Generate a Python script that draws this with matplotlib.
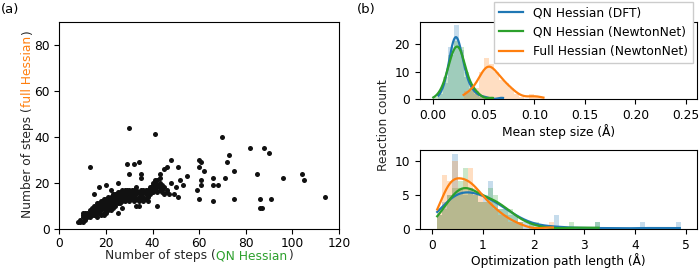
import numpy as np
import matplotlib
matplotlib.use("Agg")
import matplotlib.pyplot as plt

plt.rcParams['font.family'] = ['DejaVu Sans']
FS = 8.8
plt.rcParams['font.size'] = FS

# ---------------- data ----------------
# (a) number of optimisation steps, QN Hessian vs full Hessian
qn_steps = [
    8,
    9, 9,
    10, 10, 10, 10,
    11, 11, 11,
    12, 12, 12,
    13, 13, 13, 13, 13,
    14, 14, 14, 14,
    15, 15, 15, 15, 15, 15,
    16, 16, 16, 16, 16, 16,
    17, 17, 17, 17, 17, 17,
    18, 18, 18, 18, 18, 18,
    19, 19, 19, 19, 19, 19, 19,
    20, 20, 20, 20, 20, 20, 20, 20,
    21, 21, 21, 21, 21, 21, 21,
    22, 22, 22, 22, 22, 22, 22,
    23, 23, 23, 23, 23, 23,
    24, 24, 24, 24, 24, 24,
    25, 25, 25, 25, 25, 25, 25, 25,
    26, 26, 26, 26, 26,
    27, 27, 27, 27, 27, 27,
    28, 28, 28, 28, 28, 28,
    29, 29, 29, 29, 29,
    30, 30, 30, 30, 30, 30, 30,
    31, 31, 31, 31,
    32, 32, 32, 32, 32,
    33, 33, 33, 33, 33, 33,
    34, 34, 34, 34, 34,
    35, 35, 35, 35, 35, 35,
    36, 36, 36, 36,
    37, 37, 37,
    38, 38, 38, 38,
    39, 39, 39,
    40, 40, 40, 40, 40,
    41, 41, 41, 41, 41, 41,
    42, 42, 42, 42, 42,
    43, 43, 43, 43, 43, 43,
    44, 44, 44,
    45, 45, 45,
    46, 46, 46,
    47,
    48, 48,
    49, 50,
    51, 51,
    52, 53, 55, 59,
    60, 60, 60,
    61, 61, 61,
    62,
    66, 66, 66,
    68, 70, 71, 72, 73,
    75, 75,
    82, 85, 86, 86, 87, 88, 90, 91, 96, 104, 105, 114,
]
full_steps = [
    3,
    3, 4,
    3, 5, 6, 7,
    4, 6, 7,
    5, 6, 7,
    5, 6, 7, 8, 27,
    6, 7, 8, 9,
    6, 7, 8, 9, 10, 15,
    5, 7, 8, 9, 10, 11,
    7, 8, 9, 10, 11, 18,
    6, 8, 9, 10, 11, 12,
    6, 7, 9, 10, 11, 12, 13,
    7, 8, 9, 10, 11, 12, 13, 19,
    8, 9, 10, 11, 12, 13, 14,
    8, 10, 11, 12, 13, 14, 17,
    9, 10, 11, 12, 13, 15,
    10, 11, 12, 13, 14, 15,
    7, 11, 12, 13, 14, 15, 16, 20,
    11, 12, 13, 14, 16,
    9, 12, 13, 14, 15, 17,
    12, 13, 14, 15, 16, 17,
    13, 14, 15, 17, 28,
    12, 14, 15, 16, 17, 24, 44,
    13, 14, 15, 17,
    12, 14, 16, 17, 28,
    10, 13, 15, 16, 17, 18,
    10, 12, 14, 16, 29,
    13, 15, 16, 17, 22, 24,
    12, 14, 16, 17,
    13, 15, 17,
    12, 14, 16, 17,
    15, 17, 18,
    16, 17, 18, 19, 20,
    17, 18, 19, 20, 21, 41,
    10, 16, 18, 19, 21,
    17, 18, 19, 20, 22, 24,
    16, 17, 19,
    15, 18, 26,
    16, 17, 27,
    15,
    20, 30,
    15, 18,
    14, 27,
    21, 19, 23, 17,
    13, 27, 30,
    19, 21, 29,
    25,
    12, 19, 22,
    19, 40, 22, 29, 32,
    13, 25,
    35, 24, 9, 13, 9, 35, 33, 13, 22, 24, 21, 14,
]
assert len(qn_steps) == len(full_steps)

series_labels = ["QN Hessian (DFT)", "QN Hessian (NewtonNet)", "Full Hessian (NewtonNet)"]
series_colors = ["#1f77b4", "#2ca02c", "#ff7f0e"]

# (b, top) mean step size histograms: bins of 0.005 A starting at 0.0
step_bin_start = 0.0
step_bin_width = 0.005
step_counts_dft = [0, 2, 6, 19, 27, 18, 8, 4, 2, 1, 1, 0, 0, 1]
step_counts_nn = [1, 3, 8, 16, 21, 19, 10, 5, 3, 1, 0, 1]
step_counts_full = [0, 0, 0, 0, 0, 0, 3, 3, 4, 10, 15, 13, 10, 7, 6, 4, 2, 1, 0, 2, 1, 1]

# (b, bottom) optimisation path length histograms: bins of 0.1 A starting at 0.1
path_bin_start = 0.1
path_bin_width = 0.1
path_counts_dft = [2, 4, 5, 11, 6, 5, 6, 5, 4, 5, 7, 4, 3, 3, 2, 2, 1, 1, 1, 0,
                   0, 0, 0, 2, 0, 0, 0, 0, 0, 0, 0, 1, 0, 0, 0, 0, 0, 0, 0, 0,
                   1, 0, 0, 0, 0, 0, 0, 1]
path_counts_nn = [2, 3, 5, 6, 7, 9, 6, 5, 4, 4, 6, 5, 3, 3, 3, 2, 1, 0, 1, 1,
                  0, 0, 0, 0, 0, 0, 1, 0, 0, 0, 0, 1]
path_counts_full = [3, 8, 7, 10, 6, 7, 9, 6, 5, 4, 4, 3, 2, 2, 1, 1, 1, 0, 0, 0,
                    0, 0, 1]


def hist_kde(ax, start, width, counts, color, label, zorder):
    counts = np.asarray(counts)
    lefts = start + width * np.arange(len(counts))
    ax.bar(lefts, counts, width=width, align='edge', color=color, alpha=0.25,
           linewidth=0, zorder=zorder)
    centers = lefts + width / 2
    samples = np.repeat(centers, counts)
    n = len(samples)
    bw = samples.std(ddof=1) * n ** (-0.2)
    nz = np.nonzero(counts)[0]
    grid = np.linspace(lefts[nz[0]], lefts[nz[-1]] + 0.8 * width, 300)
    dens = np.exp(-0.5 * ((grid[:, None] - samples[None, :]) / bw) ** 2).sum(1)
    dens /= (n * bw * np.sqrt(2 * np.pi))
    ax.plot(grid, dens * n * width, color=color, lw=1.6, label=label, zorder=zorder + 5)


fig = plt.figure(figsize=(6.99, 2.69), dpi=100)

# ---------------- (a) scatter ----------------
ax1 = fig.add_axes([0.0848, 0.1498, 0.4002, 0.7695])
ax1.scatter(qn_steps, full_steps, s=13, color='#111111', linewidths=0)
ax1.set_xlim(0, 120)
ax1.set_ylim(0, 90)
ax1.set_xticks([0, 20, 40, 60, 80, 100, 120])
ax1.set_yticks([0, 20, 40, 60, 80])
ax1.tick_params(axis='x', pad=2.8)

renderer = fig.canvas.get_renderer()


def multicolor_text(x, y, pieces, rotation=0, gap=0.8):
    texts = []
    for s, c in pieces:
        t = fig.text(x, y, s, color=c, rotation=rotation, rotation_mode='anchor',
                     ha='left', va='baseline', fontsize=FS)
        texts.append(t)
    sizes = []
    for t in texts:
        bb = t.get_window_extent(renderer)
        sizes.append(bb.height if rotation else bb.width)
    total = sum(sizes) + gap * (len(sizes) - 1)
    W, H = fig.bbox.width, fig.bbox.height
    pos = -total / 2.0
    for t, sz in zip(texts, sizes):
        if rotation:
            t.set_position((x, y + pos / H))
        else:
            t.set_position((x + pos / W, y))
        pos += sz + gap


multicolor_text(199 / 699, 1 - 259.5 / 269,
                [("Number of steps (", '#262626'), ("QN Hessian", '#2ca02c'), (")", '#262626')])
multicolor_text(31 / 699, 1 - 124 / 269,
                [("Number of steps (", '#262626'), ("full Hessian", '#ff7f0e'), (")", '#262626')],
                rotation=90)

# ---------------- (b) histograms ----------------
ax2 = fig.add_axes([0.6005, 0.6309, 0.3967, 0.2885])
hist_kde(ax2, step_bin_start, step_bin_width, step_counts_dft, series_colors[0], series_labels[0], 1)
hist_kde(ax2, step_bin_start, step_bin_width, step_counts_nn, series_colors[1], series_labels[1], 2)
hist_kde(ax2, step_bin_start, step_bin_width, step_counts_full, series_colors[2], series_labels[2], 3)
ax2.set_xlim(-0.0134, 0.261)
ax2.set_ylim(0, 28.2)
ax2.set_xticks([0.0, 0.05, 0.10, 0.15, 0.20, 0.25])
ax2.set_xticklabels(["0.00", "0.05", "0.10", "0.15", "0.20", "0.25"])
ax2.set_yticks([0, 10, 20])
ax2.set_xlabel("Mean step size (Å)", labelpad=1.5)
ax2.legend(loc='upper right', bbox_to_anchor=(693 / 699, 1 - 1.7 / 269),
           bbox_transform=fig.transFigure, borderaxespad=0, fontsize=FS,
           fancybox=False, framealpha=1.0, edgecolor='#cccccc')

ax3 = fig.add_axes([0.6005, 0.1487, 0.3967, 0.2937])
hist_kde(ax3, path_bin_start, path_bin_width, path_counts_dft, series_colors[0], series_labels[0], 1)
hist_kde(ax3, path_bin_start, path_bin_width, path_counts_nn, series_colors[1], series_labels[1], 2)
hist_kde(ax3, path_bin_start, path_bin_width, path_counts_full, series_colors[2], series_labels[2], 3)
ax3.set_xlim(-0.244, 5.22)
ax3.set_ylim(0, 11.6)
ax3.set_xticks([0, 1, 2, 3, 4, 5])
ax3.set_yticks([0, 5, 10])
ax3.set_xlabel("Optimization path length (Å)", labelpad=1.2)

fig.text(383 / 699, 1 - 125 / 269, "Reaction count", rotation=90, ha='center', va='center',
         fontsize=FS, color='#262626')

fig.text(1 / 699, 1 - 10 / 269, "(a)", ha='left', va='center', fontsize=9.5)
fig.text(357 / 699, 1 - 10 / 269, "(b)", ha='left', va='center', fontsize=9.5)

fig.savefig("out.png", dpi=100)
